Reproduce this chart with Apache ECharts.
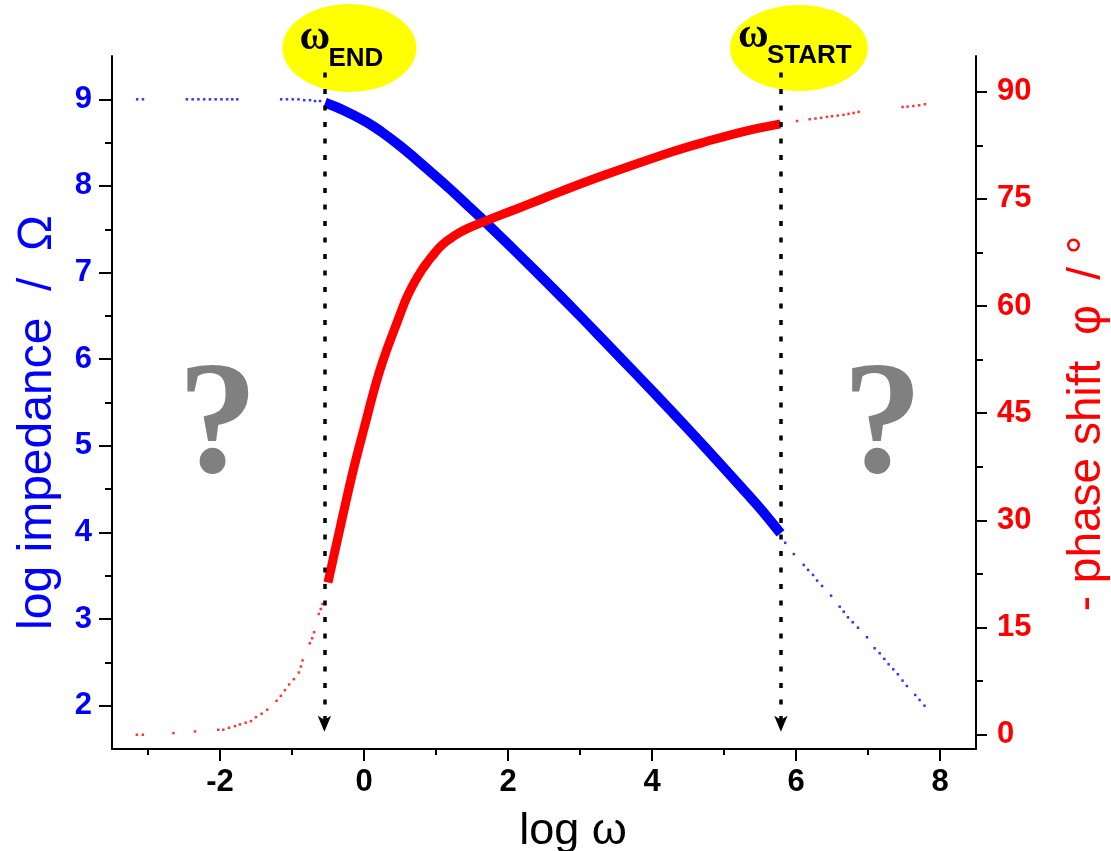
<!DOCTYPE html>
<html>
<head>
<meta charset="utf-8">
<script src="https://cdn.jsdelivr.net/npm/echarts@6/dist/echarts.min.js"></script>
<style>
  html, body { margin: 0; padding: 0; background: #fff; }
  #chart { width: 1111px; height: 851px; }
</style>
</head>
<body>
<div id="chart"></div>
<script>
// axis ticks
const xTickLabels = [-2, 0, 2, 4, 6, 8];
const xMinorTicks = [-3, -1, 1, 3, 5, 7];
const impTickLabels = [2, 3, 4, 5, 6, 7, 8, 9];
const impMinorTicks = [2.5, 3.5, 4.5, 5.5, 6.5, 7.5, 8.5];
const phaseTickLabels = [0, 15, 30, 45, 60, 75, 90];
const phaseMinorTicks = [7.5, 22.5, 37.5, 52.5, 67.5, 82.5];

// measured window (log ω)
const omegaEnd = -0.55;
const omegaStart = 5.79;

// log impedance, measured part
const impX = [-0.54, -0.3, 0.03, 0.25, 0.49, 0.72, 0.955, 1.2, 1.42, 1.65, 2.11, 2.62, 3.0, 3.36, 3.8, 4.28, 4.75, 5.21, 5.5, 5.785];
const impY = [8.96, 8.88, 8.74, 8.62, 8.47, 8.31, 8.14, 7.96, 7.79, 7.61, 7.24, 6.82, 6.50, 6.19, 5.81, 5.39, 4.97, 4.55, 4.28, 3.99];
// log impedance, extrapolated (dots)
const impLowX = [-3.15, -3.07, -2.46, -2.38, -2.30, -2.22, -2.14, -2.06, -1.98, -1.90, -1.83, -1.76, -1.15, -1.07, -0.99, -0.91, -0.83, -0.75, -0.68, -0.61];
const impLowY = [9.0, 9.0, 9.0, 9.0, 9.0, 9.0, 9.0, 9.0, 9.0, 9.0, 9.0, 9.0, 9.0, 9.0, 9.0, 9.0, 8.99, 8.99, 8.98, 8.98];
const impHighX = [5.85, 5.97, 6.108, 6.168, 6.237, 6.293, 6.362, 6.487, 6.607, 6.663, 6.722, 6.787, 6.861, 6.986, 7.092, 7.162, 7.226, 7.286, 7.351, 7.415, 7.48, 7.54, 7.656, 7.716, 7.785];
const impHighY = [3.88, 3.75, 3.625, 3.567, 3.509, 3.444, 3.382, 3.27, 3.143, 3.085, 3.02, 2.963, 2.90, 2.79, 2.663, 2.605, 2.54, 2.478, 2.42, 2.363, 2.29, 2.227, 2.124, 2.066, 2.0];

// phase shift, measured part
const phX = [-0.50, -0.34, -0.15, 0.03, 0.12, 0.22, 0.32, 0.425, 0.50, 0.59, 0.70, 0.80, 0.90, 0.956, 1.05, 1.15, 1.25, 1.33, 1.45, 1.65, 1.85, 2.11, 2.435, 2.71, 3.36, 4.28, 4.745, 5.3, 5.785];
const phY = [21.3, 28.6, 37.0, 44.0, 47.5, 51.0, 54.0, 56.8, 58.8, 61.1, 63.3, 65.0, 66.4, 67.1, 68.2, 69.1, 69.8, 70.3, 70.9, 71.75, 72.55, 73.55, 74.85, 75.95, 78.4, 81.6, 83.0, 84.5, 85.5];
// phase shift, extrapolated (dots)
const phLowX = [-3.155, -3.072, -2.647, -2.347, -2.024, -1.954, -1.875, -1.792, -1.723, -1.644, -1.57, -1.501, -1.422, -1.344, -1.214, -1.155, -1.099, -1.04, -0.974, -0.905, -0.877, -0.854, -0.753, -0.72, -0.693, -0.628, -0.6, -0.577];
const phLowY = [0.0, 0.0, 0.23, 0.46, 0.7, 0.7, 0.98, 1.2, 1.44, 1.68, 1.9, 2.46, 2.94, 3.5, 4.75, 5.45, 6.24, 7.03, 7.78, 8.71, 9.55, 10.4, 12.8, 13.5, 14.35, 16.9, 17.6, 18.3];
const phHighX = [6.015, 6.19, 6.27, 6.35, 6.43, 6.5, 6.58, 6.66, 6.73, 6.8, 6.87, 7.48, 7.55, 7.63, 7.71, 7.79];
const phHighY = [85.9, 86.15, 86.24, 86.34, 86.48, 86.57, 86.66, 86.76, 86.9, 87.03, 87.17, 87.87, 87.92, 88.0, 88.1, 88.25];

const zip = (xs, ys) => xs.map((x, i) => [x, ys[i]]);

const FONT = '"Liberation Sans", Arial, sans-serif';
const BLUE = '#0000ff';
const RED = '#ff0000';
const axisLineStyle = { color: '#000', width: 2 };

const chart = echarts.init(document.getElementById('chart'));

function dots (xs, ys, color, yIdx) {
  return {
    type: 'scatter',
    yAxisIndex: yIdx,
    data: zip(xs, ys),
    symbol: 'rect',
    symbolSize: 2.5,
    itemStyle: { color: color },
    silent: true
  };
}

const option = {
  animation: false,
  backgroundColor: '#fff',
  grid: { left: 112, right: 135, top: 56, bottom: 102, outerBoundsMode: 'none' },
  xAxis: [
    {
      type: 'value', min: -3.5, max: 8.5, position: 'bottom',
      axisLine: { show: true, onZero: false, lineStyle: axisLineStyle },
      axisTick: { show: true, customValues: xTickLabels, length: 12, lineStyle: axisLineStyle },
      axisLabel: { customValues: xTickLabels, fontSize: 31, fontWeight: 'bold', color: '#000', margin: 18, fontFamily: FONT },
      splitLine: { show: false },
      name: 'log ω', nameLocation: 'middle', nameGap: 60, nameMoveOverlap: false,
      nameTextStyle: { fontSize: 45, color: '#000', fontFamily: FONT, padding: [0, 0, 0, 58] }
    },
    {
      type: 'value', min: -3.5, max: 8.5, position: 'bottom',
      axisLine: { show: false, onZero: false },
      axisTick: { show: true, customValues: xMinorTicks, length: 6, lineStyle: axisLineStyle },
      axisLabel: { show: false },
      splitLine: { show: false }
    }
  ],
  yAxis: [
    {
      type: 'value', min: 1.5, max: 9.5, position: 'left',
      axisLine: { show: true, onZero: false, lineStyle: axisLineStyle },
      axisTick: { show: true, customValues: impTickLabels, length: 13, lineStyle: axisLineStyle },
      axisLabel: { customValues: impTickLabels, fontSize: 31, fontWeight: 'bold', color: BLUE, margin: 20, fontFamily: FONT },
      splitLine: { show: false },
      name: 'log impedance  /  Ω', nameLocation: 'middle', nameGap: 50, nameMoveOverlap: false,
      nameTextStyle: { fontSize: 48, color: BLUE, fontFamily: FONT, padding: [0, 40, 0, 0] }
    },
    {
      type: 'value', min: -2, max: 95, position: 'right',
      axisLine: { show: true, onZero: false, lineStyle: axisLineStyle },
      axisTick: { show: true, customValues: phaseTickLabels, length: 11, lineStyle: axisLineStyle },
      axisLabel: { customValues: phaseTickLabels, fontSize: 31, fontWeight: 'bold', color: RED, margin: 21, fontFamily: FONT },
      splitLine: { show: false },
      name: '- phase shift  φ  / °', nameLocation: 'middle', nameGap: 88, nameMoveOverlap: false,
      nameTextStyle: { fontSize: 46, color: RED, fontFamily: FONT, padding: [0, 42, 0, 0] }
    },
    {
      type: 'value', min: 1.5, max: 9.5, position: 'left',
      axisLine: { show: false, onZero: false },
      axisTick: { show: true, customValues: impMinorTicks, length: 7, lineStyle: axisLineStyle },
      axisLabel: { show: false },
      splitLine: { show: false }
    },
    {
      type: 'value', min: -2, max: 95, position: 'right',
      axisLine: { show: false, onZero: false },
      axisTick: { show: true, customValues: phaseMinorTicks, length: 7, lineStyle: axisLineStyle },
      axisLabel: { show: false },
      splitLine: { show: false }
    }
  ],
  series: [
    dots(impLowX, impLowY, BLUE, 0),
    dots(impHighX, impHighY, BLUE, 0),
    dots(phLowX, phLowY, RED, 1),
    dots(phHighX, phHighY, RED, 1),
    {
      type: 'line',
      yAxisIndex: 0,
      data: zip(impX, impY),
      smooth: 0.4,
      showSymbol: false,
      lineStyle: { color: BLUE, width: 10 },
      itemStyle: { color: BLUE },
      silent: true,
      z: 3
    },
    {
      type: 'line',
      yAxisIndex: 1,
      data: zip(phX, phY),
      smooth: 0.4,
      showSymbol: false,
      lineStyle: { color: RED, width: 9 },
      itemStyle: { color: RED },
      silent: true,
      z: 4
    },
    {
      type: 'scatter',
      yAxisIndex: 0,
      data: [],
      silent: true,
      z: 5,
      markLine: {
        silent: true,
        symbol: ['none', 'arrow'],
        symbolSize: [10, 16],
        label: { show: false },
        lineStyle: { color: '#000', width: 3.5, type: [5, 11.5] },
        emphasis: { disabled: true },
        data: [
          [{ coord: [omegaEnd, 9.31] }, { coord: [omegaEnd, 1.7] }],
          [{ coord: [omegaStart, 9.31] }, { coord: [omegaStart, 1.7] }]
        ]
      }
    }
  ]
};

chart.setOption(option);

// annotations placed from the axis scale
const endPx = chart.convertToPixel({ xAxisIndex: 0, yAxisIndex: 0 }, [omegaEnd, 9])[0];
const startPx = chart.convertToPixel({ xAxisIndex: 0, yAxisIndex: 0 }, [omegaStart, 9])[0];
const qLeft = chart.convertToPixel({ xAxisIndex: 0, yAxisIndex: 0 }, [-2.03, 5.34]);
const qRight = chart.convertToPixel({ xAxisIndex: 0, yAxisIndex: 0 }, [7.2, 5.34]);

function badge (lx, dx, rx, ry, omegaDx, omegaY, sub, subDx, subY) {
  return [
    { type: 'ellipse', z: 1, silent: true, shape: { cx: lx + dx, cy: 48, rx: rx, ry: ry }, style: { fill: '#ffff00' } },
    { type: 'text', z: 10, silent: true, x: lx + omegaDx, y: omegaY,
      style: { text: 'ω', font: 'bold 42px "Liberation Serif", serif', fill: '#000', textVerticalAlign: 'middle' } },
    { type: 'text', z: 10, silent: true, x: lx + subDx, y: subY,
      style: { text: sub, font: 'bold 26px ' + FONT, fill: '#000', textVerticalAlign: 'middle' } }
  ];
}

const qStyle = { text: '?', font: 'bold 160px "Liberation Serif", serif', fill: '#808080', textAlign: 'center', textVerticalAlign: 'middle' };

chart.setOption({
  graphic: [].concat(
    badge(endPx, 25, 67, 44, -25, 38, 'END', 4, 59),
    badge(startPx, 18, 69, 43, -43, 36, 'START', -14, 56),
    [
      { type: 'text', silent: true, x: qLeft[0], y: qLeft[1] + 14, style: qStyle },
      { type: 'text', silent: true, x: qRight[0], y: qRight[1] + 14, style: qStyle }
    ]
  )
});
</script>
</body>
</html>
